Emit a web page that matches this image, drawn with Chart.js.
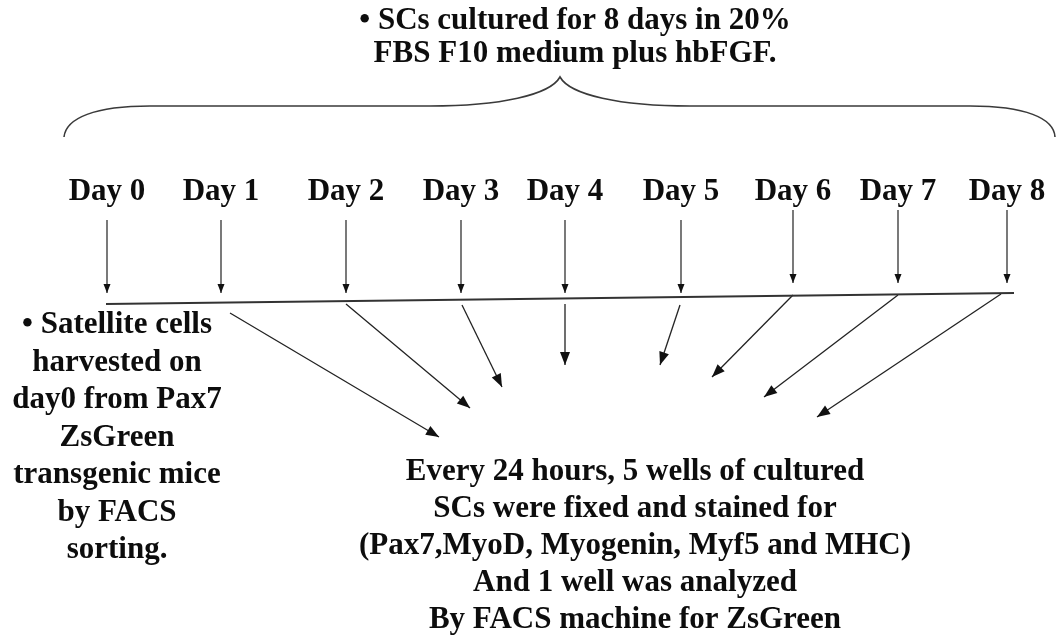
<!DOCTYPE html>
<html>
<head>
<meta charset="utf-8">
<script src="https://cdn.jsdelivr.net/npm/chart.js@4.4.1/dist/chart.umd.min.js"></script>
<style>
  html, body { margin: 0; padding: 0; background: #ffffff; }
  canvas { display: block; }
</style>
</head>
<body>
<canvas id="c" width="1058" height="637"></canvas>
<script>
// ---- diagram content (diagram units: x 0..1058, y 0..637 top-down) ----
const titleLines = ['\u2022 SCs cultured for 8 days in 20%', 'FBS F10 medium plus hbFGF.'];
const days = ['Day 0', 'Day 1', 'Day 2', 'Day 3', 'Day 4', 'Day 5', 'Day 6', 'Day 7', 'Day 8'];
const dayX = [107, 221, 346, 461, 565, 681, 793, 898, 1007];
const dropStartY = [220, 220, 220, 220, 220, 220, 210, 210, 210];
const dropEndY = [293, 293, 293, 293, 293, 293, 283, 283, 283];
const timelineX = [106, 1014];
const timelineY = [304, 293];
const branchFromX = [230, 346, 462, 565, 680, 793, 898, 1001];
const branchFromY = [313, 304, 305, 304, 305, 295, 295, 294];
const branchToX = [439, 470, 502, 565, 660, 712, 764, 817];
const branchToY = [437, 408, 387, 365, 365, 377, 397, 417];
const leftNote = ['\u2022 Satellite cells', 'harvested on', 'day0 from Pax7', 'ZsGreen', 'transgenic mice', 'by FACS', 'sorting.'];
const bottomNote = ['Every 24 hours, 5 wells of cultured', 'SCs were fixed and stained for',
  '(Pax7,MyoD, Myogenin, Myf5 and MHC)', 'And 1 well was analyzed', 'By FACS machine for ZsGreen'];

const FONT = 'bold 31px "Liberation Serif", "Times New Roman", serif';
const INK = '#0d0d0d';

const datasets = [];
datasets.push({
  data: timelineX.map((x, i) => ({ x: x, y: timelineY[i] })),
  borderColor: '#333333', borderWidth: 2, arrow: null
});
days.forEach((d, i) => {
  datasets.push({
    data: [{ x: dayX[i], y: dropStartY[i] }, { x: dayX[i], y: dropEndY[i] }],
    borderColor: '#222222', borderWidth: 1.2, arrow: 'small'
  });
});
branchFromX.forEach((x, i) => {
  datasets.push({
    data: [{ x: x, y: branchFromY[i] }, { x: branchToX[i], y: branchToY[i] }],
    borderColor: '#222222', borderWidth: 1.3, arrow: 'big'
  });
});
datasets.forEach(ds => { ds.showLine = true; ds.pointRadius = 0; ds.fill = false; });

const diagramPlugin = {
  id: 'diagram',
  afterDatasetsDraw(chart) {
    const ctx = chart.ctx;
    const xs = chart.scales.x, ys = chart.scales.y;
    const px = v => xs.getPixelForValue(v);
    const py = v => ys.getPixelForValue(v);
    ctx.save();
    // arrowheads
    chart.data.datasets.forEach(ds => {
      if (!ds.arrow) return;
      const a = ds.data[0], b = ds.data[ds.data.length - 1];
      const x1 = px(a.x), y1 = py(a.y), x2 = px(b.x), y2 = py(b.y);
      const ang = Math.atan2(y2 - y1, x2 - x1);
      const len = ds.arrow === 'big' ? 13 : 9;
      const hw = ds.arrow === 'big' ? 5 : 3.5;
      ctx.beginPath();
      ctx.moveTo(x2, y2);
      ctx.lineTo(x2 - len * Math.cos(ang) + hw * Math.sin(ang), y2 - len * Math.sin(ang) - hw * Math.cos(ang));
      ctx.lineTo(x2 - len * Math.cos(ang) - hw * Math.sin(ang), y2 - len * Math.sin(ang) + hw * Math.cos(ang));
      ctx.closePath();
      ctx.fillStyle = '#111111';
      ctx.fill();
    });
    // curly brace
    ctx.beginPath();
    ctx.moveTo(px(64), py(137));
    ctx.bezierCurveTo(px(66), py(118), px(95), py(106), px(150), py(106));
    ctx.lineTo(px(430), py(106));
    ctx.bezierCurveTo(px(500), py(106), px(550), py(95), px(560), py(77));
    ctx.bezierCurveTo(px(570), py(95), px(620), py(106), px(690), py(106));
    ctx.lineTo(px(970), py(106));
    ctx.bezierCurveTo(px(1025), py(106), px(1054), py(118), px(1055), py(137));
    ctx.strokeStyle = '#3a3a3a';
    ctx.lineWidth = 1.6;
    ctx.stroke();
    // texts
    ctx.fillStyle = INK;
    ctx.font = FONT;
    ctx.textAlign = 'center';
    ctx.textBaseline = 'alphabetic';
    titleLines.forEach((t, i) => ctx.fillText(t, px(575), py(29 + i * 33)));
    days.forEach((d, i) => ctx.fillText(d, px(dayX[i]), py(200)));
    leftNote.forEach((t, i) => ctx.fillText(t, px(117), py(333 + i * 37.5)));
    bottomNote.forEach((t, i) => ctx.fillText(t, px(635), py(480 + i * 37)));
    ctx.restore();
  }
};

new Chart(document.getElementById('c'), {
  type: 'scatter',
  data: { datasets: datasets },
  options: {
    responsive: false,
    animation: false,
    devicePixelRatio: 1,
    layout: { padding: 0 },
    plugins: { legend: { display: false }, tooltip: { enabled: false } },
    scales: {
      x: { type: 'linear', min: 0, max: 1058, display: false },
      y: { type: 'linear', min: 0, max: 637, reverse: true, display: false }
    }
  },
  plugins: [diagramPlugin]
});
</script>
</body>
</html>
